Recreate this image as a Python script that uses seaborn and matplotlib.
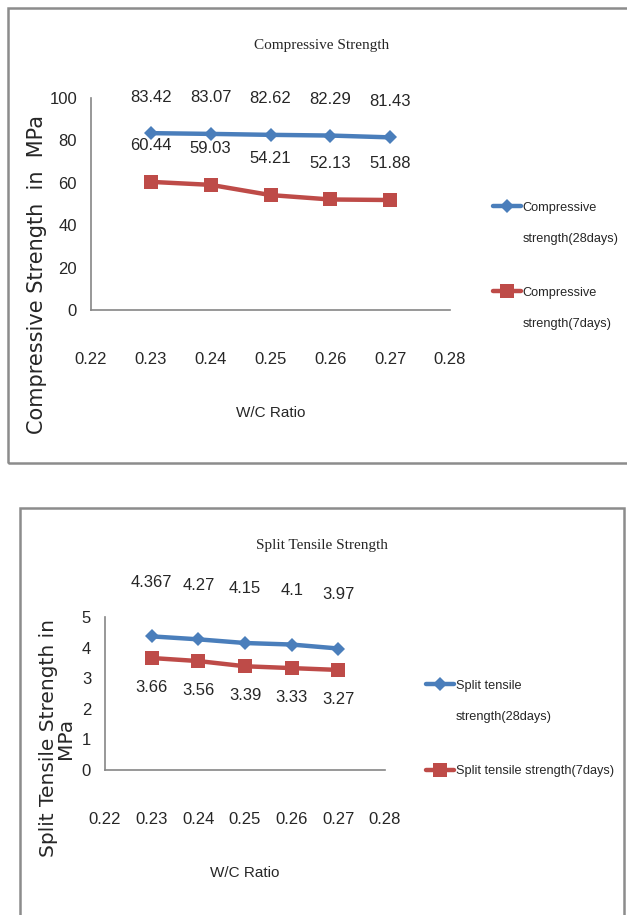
import seaborn as sns
import matplotlib.pyplot as plt
from matplotlib.patches import Rectangle
from matplotlib.legend_handler import HandlerLine2D

wc = [0.23, 0.24, 0.25, 0.26, 0.27]
comp28 = [83.42, 83.07, 82.62, 82.29, 81.43]
comp7 = [60.44, 59.03, 54.21, 52.13, 51.88]
split28 = [4.367, 4.27, 4.15, 4.1, 3.97]
split7 = [3.66, 3.56, 3.39, 3.33, 3.27]
xticks = [0.22, 0.23, 0.24, 0.25, 0.26, 0.27, 0.28]

blue = "#4a7ebb"
red = "#be4b48"
grey = "#868686"
narrow = ["Liberation Sans Narrow", "DejaVu Sans Condensed", "Liberation Sans", "DejaVu Sans"]

sns.set_style("white")
plt.rcParams["font.family"] = narrow

W, H = 627, 915
fig = plt.figure(figsize=(W / 100, H / 100), dpi=100)


def px(x0, y0, x1, y1):
    # pixel box (top-left origin) -> figure fraction rect
    return [x0 / W, 1 - y1 / H, (x1 - x0) / W, (y1 - y0) / H]


class FirstLineHandler(HandlerLine2D):
    # put the legend marker next to the first line of a two-line label
    def __init__(self, shift, **kw):
        super().__init__(**kw)
        self.shift = shift

    def create_artists(self, legend, orig_handle, xdescent, ydescent, width, height, fontsize, trans):
        return super().create_artists(legend, orig_handle, xdescent, ydescent - 2 * self.shift,
                                      width, height, fontsize, trans)


def style_axes(ax, ymax, ystep):
    ax.set_xlim(0.22, 0.28)
    ax.set_ylim(0, ymax)
    ax.set_xticks(xticks)
    ax.set_xticklabels([f"{t:.2f}" for t in xticks])
    ax.set_yticks(range(0, ymax + 1, ystep))
    for s in ["top", "right"]:
        ax.spines[s].set_visible(False)
    for s in ["left", "bottom"]:
        ax.spines[s].set_color(grey)
        ax.spines[s].set_linewidth(1.2)
    ax.tick_params(axis="x", direction="out", length=7, color=grey, pad=23, labelsize=12)
    ax.tick_params(axis="y", direction="out", length=5, color=grey, pad=5, labelsize=12)
    ax.set_ylabel("")


def add_legend(ax, anchor, shifts):
    lines = ax.get_lines()[:2]
    hmap = {ln: FirstLineHandler(s) for ln, s in zip(lines, shifts)}
    leg = ax.legend(loc="upper left", bbox_to_anchor=anchor, bbox_transform=fig.transFigure,
                    frameon=False, fontsize=9.2, handlelength=2.2, handletextpad=0.15,
                    labelspacing=3.3, handler_map=hmap)
    for t in leg.get_texts():
        t.set_linespacing(3.05)
    return leg


# ---- top: compressive strength
ax1 = fig.add_axes(px(91, 98, 450, 310))
sns.lineplot(x=wc, y=comp28, ax=ax1, color=blue, marker="D", markersize=7.5, linewidth=3.2,
             markeredgewidth=0, label="Compressive\nstrength(28days)")
sns.lineplot(x=wc, y=comp7, ax=ax1, color=red, marker="s", markersize=10, linewidth=3.2,
             markeredgewidth=0, label="Compressive\nstrength(7days)")
style_axes(ax1, 100, 20)
for x, v in zip(wc, comp28):
    ax1.annotate(f"{v:g}", (x, v), xytext=(0, 26), textcoords="offset points",
                 ha="center", va="center", fontsize=12)
for x, v in zip(wc, comp7):
    ax1.annotate(f"{v:g}", (x, v), xytext=(0, 26), textcoords="offset points",
                 ha="center", va="center", fontsize=12)
ax1.set_xlabel("W/C Ratio", fontsize=11, labelpad=28)
add_legend(ax1, (481 / W, 1 - 191 / H), [12.5, 12.5])
fig.text(322 / W, 1 - 45 / H, "Compressive Strength", family=["Liberation Serif", "DejaVu Serif"],
         fontsize=11, ha="center", va="center")
fig.text(37 / W, 1 - 275 / H, "Compressive Strength  in  MPa", family=["DejaVu Sans"],
         fontsize=15, rotation=90, ha="center", va="center")

# ---- bottom: split tensile strength
ax2 = fig.add_axes(px(105, 617, 385, 770))
sns.lineplot(x=wc, y=split28, ax=ax2, color=blue, marker="D", markersize=7.5, linewidth=3.2,
             markeredgewidth=0, label="Split tensile\nstrength(28days)")
sns.lineplot(x=wc, y=split7, ax=ax2, color=red, marker="s", markersize=10, linewidth=3.2,
             markeredgewidth=0, label="Split tensile strength(7days)")
style_axes(ax2, 5, 1)
for x, v in zip(wc, split28):
    ax2.annotate(f"{v:g}", (x, v), xytext=(0, 39), textcoords="offset points",
                 ha="center", va="center", fontsize=12)
for x, v in zip(wc, split7):
    ax2.annotate(f"{v:g}", (x, v), xytext=(0, -21), textcoords="offset points",
                 ha="center", va="center", fontsize=12)
ax2.set_xlabel("W/C Ratio", fontsize=11, labelpad=28)
add_legend(ax2, (414 / W, 1 - 669 / H), [12.5, 0])
fig.text(322 / W, 1 - 545 / H, "Split Tensile Strength", family=["Liberation Serif", "DejaVu Serif"],
         fontsize=11, ha="center", va="center")
fig.text(57 / W, 1 - 738 / H, "Split Tensile Strength in\nMPa", family=["DejaVu Sans"],
         fontsize=14.5, rotation=90, ha="center", va="center", multialignment="center",
         linespacing=0.85)

# chart area frames
fig.patches.append(Rectangle((8 / W, 1 - 463 / H), 640 / W, 455 / H, transform=fig.transFigure,
                             fill=False, edgecolor="#8c8c8c", lw=1.8))
fig.patches.append(Rectangle((20 / W, 1 - 930 / H), 604 / W, 422 / H, transform=fig.transFigure,
                             fill=False, edgecolor="#8c8c8c", lw=1.8))

plt.savefig("out.png", dpi=100)
